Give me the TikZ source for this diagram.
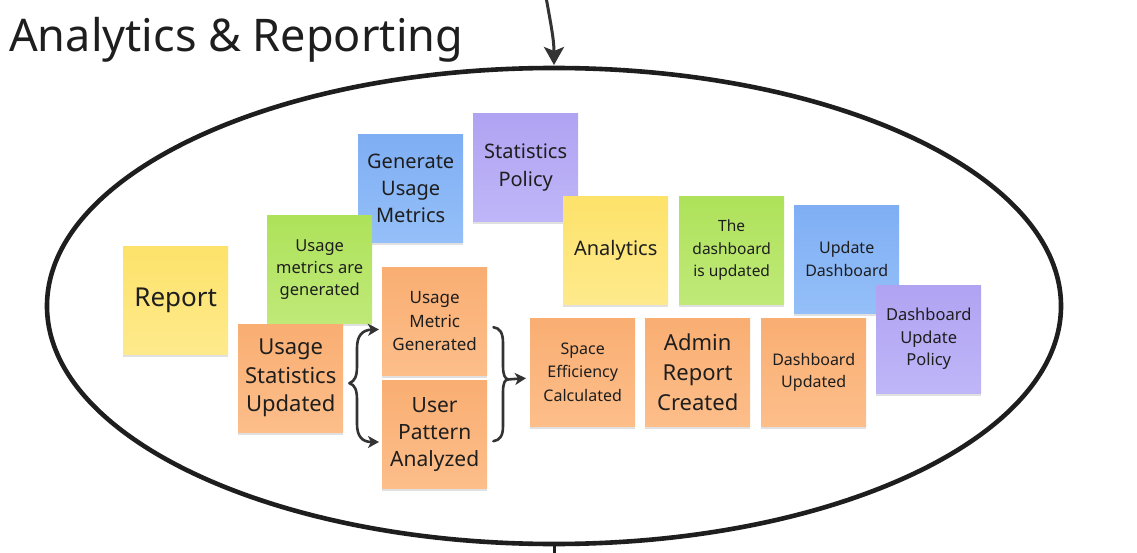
\documentclass[tikz,border=0pt]{standalone}
\usepackage{fontspec}
\setmainfont{Noto Sans}
\usetikzlibrary{arrows.meta,shadows,calc,shapes.geometric}
\definecolor{txt}{HTML}{1E1E1E}
\definecolor{ink}{HTML}{333333}
\definecolor{yelA}{HTML}{FDE26A}
\definecolor{yelB}{HTML}{FEEA8C}
\definecolor{grnA}{HTML}{AEE25A}
\definecolor{grnB}{HTML}{C0E978}
\definecolor{bluA}{HTML}{7FAEF4}
\definecolor{bluB}{HTML}{94BFF8}
\definecolor{purA}{HTML}{B0A3F2}
\definecolor{purB}{HTML}{BFB6F8}
\definecolor{orgA}{HTML}{F9AE72}
\definecolor{orgB}{HTML}{FDBE8A}
\tikzset{
  note/.style={minimum width=105pt, minimum height=108pt, inner sep=2pt,
    align=center, text=txt, anchor=north west,
    drop shadow={shadow xshift=0pt, shadow yshift=-3pt, opacity=0.12, fill=black}},
  yellownote/.style={note, top color=yelA, bottom color=yelB},
  greennote/.style={note, top color=grnA, bottom color=grnB},
  bluenote/.style={note, top color=bluA, bottom color=bluB},
  purplenote/.style={note, top color=purA, bottom color=purB},
  orangenote/.style={note, top color=orgA, bottom color=orgB},
  fs/.style 2 args={font=\fontsize{#1}{#2}\selectfont},
  brace/.style={draw=ink, line width=2.6pt, line cap=round, line join=round},
  conn/.style={brace, -{Stealth[length=11pt,width=12pt,inset=3pt]}},
}
\begin{document}
\begin{tikzpicture}[x=1pt,y=-1pt]
\useasboundingbox (0,0) rectangle (1137,553);
\fill[white] (0,0) rectangle (1137,553);

\node[anchor=base west, inner sep=0, text=txt, fs={45}{54}] (title) at (9,52) {Analytics \& Reporting};

\node[draw=txt, line width=4.6pt, ellipse, inner sep=0, outer sep=0,
      minimum width=1014pt, minimum height=476pt] (area) at (554,306) {};

\coordinate (topsrc) at (546,-3);
\draw[ink, line width=3pt, -{Stealth[length=18pt,width=20pt,inset=4pt]}]
  (topsrc) .. controls (551,25) and (554,40) .. ($(area.north)+(0,-3)$);
\coordinate (botout) at (554,560);
\draw[txt, line width=3pt] (area.south) -- (botout);

% notes
\node[purplenote, fs={20}{28}] (sp) at (473,113) {Statistics\\Policy};
\node[bluenote, fs={20}{27}] (gum) at (358,134) {Generate\\Usage\\Metrics};
\node[greennote, fs={16.5}{22}] (umag) at (267,215) {Usage\\metrics are\\generated};
\node[yellownote, fs={26}{30}] (report) at (123,246) {Report};
\node[orangenote, fs={22}{28.5}] (usu) at (238,324) {Usage\\Statistics\\Updated};
\node[orangenote, fs={17}{23.5}] (umg) at (382,267) {Usage\\Metric\\Generated};
\node[orangenote, fs={21}{27}] (upa) at (382,380) {User\\Pattern\\Analyzed};
\node[yellownote, fs={20}{26}] (ana) at (563,196) {Analytics};
\node[greennote, fs={15.5}{22.5}] (tdu) at (679,196) {The\\dashboard\\is updated};
\node[bluenote, fs={16}{22.5}] (ud) at (794,205) {Update\\Dashboard};
\node[purplenote, fs={16.5}{22.5}] (dup) at (876,285) {Dashboard\\Update\\Policy};
\node[orangenote, fs={16}{23.5}] (sec) at (530,318) {Space\\Efficiency\\Calculated};
\node[orangenote, fs={22}{30}] (arc) at (645,318) {Admin\\Report\\Created};
\node[orangenote, fs={16}{22.5}] (du) at (761,318) {Dashboard\\Updated};

% left brace
\coordinate (lbt) at ($(usu.east)+(6,5)$);
\coordinate (umgin) at ($(umg.south west)+(-3,-46)$);
\coordinate (upain) at ($(upa.north west)+(-3,62)$);
\draw[conn] (lbt) .. controls (355,381) and (357,376) .. (357,366) -- (357,348)
  .. controls (357,336) and (362,330) .. (umgin);
\draw[conn] (lbt) .. controls (355,385) and (357,390) .. (357,400) -- (357,424)
  .. controls (357,436) and (362,442) .. (upain);

% right brace
\coordinate (umgout) at ($(umg.east)+(6,6)$);
\coordinate (upaout) at ($(upa.east)+(6,7)$);
\coordinate (rbt) at ($(umg.south east)+(21,4)$);
\coordinate (secin) at ($(sec.west)+(-4,6)$);
\draw[brace] (umgout) .. controls (500,328) and (503,333) .. (503,343) -- (503,366)
  .. controls (503,375) and (505,379) .. (rbt);
\draw[brace] (upaout) .. controls (500,440) and (503,436) .. (503,426) -- (503,392)
  .. controls (503,383) and (505,379) .. (rbt);
\draw[conn] (rbt) -- (secin);
\end{tikzpicture}
\end{document}
